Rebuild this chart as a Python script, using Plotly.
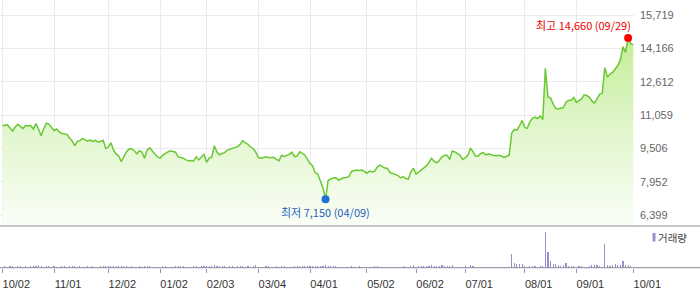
import pandas as pd
import plotly.graph_objects as go

# ---------------- data ----------------
start_date = "2024-10-02"
end_date = "2025-10-01"
market_holidays = [
    "2024-10-03", "2024-10-09", "2024-12-25", "2024-12-31", "2025-01-01",
    "2025-01-27", "2025-01-28", "2025-01-29", "2025-01-30", "2025-03-03",
    "2025-05-01", "2025-05-05", "2025-05-06", "2025-06-03", "2025-06-06",
    "2025-08-15",
]

close_prices = [
    # Oct 2024
    10570, 10590, 10610, 10470, 10330, 10510, 10640, 10540, 10440, 10580,
    10560, 10570, 10420, 10670, 10420, 10110, 10420, 10690, 10650, 10470,
    # Nov
    10350, 10420, 10280, 10210, 10190, 10170, 10000, 9860, 9640, 9840,
    9880, 9980, 9910, 9850, 9910, 9830, 9890, 9820, 9840, 9890, 9510,
    # Dec
    9570, 9780, 9440, 9260, 9160, 8900, 9160, 9350, 9490, 9500,
    9420, 9260, 9410, 9350, 9060, 9440, 9540, 9370, 9260, 9120,
    # Jan 2025
    9060, 9190, 9290, 9350, 9410, 9370, 9340, 9120, 9090, 9060,
    8980, 8940, 8950, 8930, 9130, 8980, 9120, 9240,
    # Feb
    8870, 9060, 9120, 9640, 9350, 9220, 9280, 9320, 9440, 9480,
    9520, 9560, 9600, 9710, 9880, 9770, 9710, 9580, 9510, 9350,
    # Mar
    9090, 9060, 9090, 9120, 9080, 9090, 9100, 9000, 8940, 9200,
    9130, 9190, 9240, 9340, 9130, 9160, 9360, 9280, 9200, 9000,
    # Apr
    8810, 8700, 8380, 8320, 8020, 7670, 7150, 8020, 8090, 8140,
    8150, 8040, 8090, 8150, 8160, 8200, 8440, 8460, 8510, 8490, 8510, 8440,
    # May
    8360, 8460, 8420, 8460, 8650, 8740, 8660, 8600, 8580, 8380,
    8350, 8310, 8250, 8140, 8200, 8110, 8080, 8420, 8590,
    # Jun
    8320, 8420, 8490, 8600, 8700, 8860, 9060, 8910, 8840, 8950,
    9120, 9190, 9200, 9000, 9400, 9350, 9280, 9190, 9000,
    # Jul
    9070, 9190, 9510, 9370, 9160, 9150, 9280, 9320, 9210, 9260,
    9210, 9190, 9170, 9200, 9160, 9100, 9140, 9210, 10230, 10400,
    10370, 10560, 10820,
    # Aug
    10490, 10450, 10750, 10920, 10980, 10910, 11030, 10860, 13250, 11910,
    11870, 11590, 11380, 11350, 11400, 11420, 11680, 11750, 11770, 11890,
    # Sep
    11660, 11750, 11820, 12010, 11980, 11910, 11730, 11630, 11820, 12050,
    12080, 13280, 12840, 12980, 13060, 13240, 13380, 13640, 14250, 13990,
    14660, 14410,
    # Oct 1
    14340,
]

volume_k = [
    # Oct 2024
    60, 70, 55, 65, 80, 60, 70, 75, 60, 65, 55, 70, 90, 75, 150, 80, 60, 70, 65, 60,
    # Nov
    70, 60, 55, 65, 80, 60, 70, 90, 85, 60, 65, 55, 60, 70, 60, 65, 55, 60, 70, 75, 95,
    # Dec
    80, 90, 75, 70, 85, 95, 70, 65, 60, 70, 60, 55, 65, 60, 75, 70, 65, 60, 55, 60,
    # Jan
    60, 65, 70, 60, 55, 60, 65, 70, 75, 65, 60, 60, 55, 65, 80, 60, 65, 70,
    # Feb
    85, 70, 75, 150, 90, 70, 65, 70, 60, 65, 70, 60, 65, 70, 100, 60, 70, 60, 65, 150,
    # Mar
    60, 55, 60, 65, 70, 55, 60, 65, 60, 70, 65, 60, 55, 60, 70, 65, 75, 70, 80, 75,
    # Apr
    90, 85, 95, 90, 100, 110, 120, 90, 75, 70, 65, 60, 55, 60, 55, 60, 65, 60, 55, 70, 60, 55,
    # May
    60, 55, 60, 65, 70, 60, 55, 50, 60, 55, 60, 50, 55, 60, 65, 55, 60, 75, 130,
    # Jun
    60, 65, 70, 75, 80, 70, 140, 75, 70, 65, 150, 65, 100, 65, 150, 50, 55, 55, 55,
    # Jul
    65, 55, 140, 100, 55, 55, 50, 55, 60, 55, 55, 60, 55, 60, 55, 60, 55, 60, 700, 250,
    165, 165, 200,
    # Aug
    100, 55, 100, 100, 100, 55, 100, 100, 1800, 800,
    315, 200, 165, 150, 65, 115, 250, 100, 85, 85,
    # Sep
    35, 65, 100, 50, 50, 100, 115, 150, 115, 65,
    50, 1200, 150, 100, 150, 200, 140, 135, 350, 150, 150, 100,
    # Oct 1
    0,
]

tick_dates = [
    "2024-10-02", "2024-11-01", "2024-12-02", "2025-01-02", "2025-02-03",
    "2025-03-04", "2025-04-01", "2025-05-02", "2025-06-02", "2025-07-01",
    "2025-08-01", "2025-09-01", "2025-10-01",
]
tick_labels = ["10/02", "11/01", "12/02", "01/02", "02/03", "03/04", "04/01",
               "05/02", "06/02", "07/01", "08/01", "09/01", "10/01"]

price_ticks = [6399, 7952, 9506, 11059, 12612, 14166, 15719]

# ---------------- build ----------------
days = pd.bdate_range(start_date, end_date)
days = [d.strftime("%Y-%m-%d") for d in days if d.strftime("%Y-%m-%d") not in market_holidays]
assert len(days) == len(close_prices) == len(volume_k), (len(days), len(close_prices), len(volume_k))

imax = max(range(len(close_prices)), key=lambda i: close_prices[i])
imin = min(range(len(close_prices)), key=lambda i: close_prices[i])

def md(s):
    return s[5:7] + "/" + s[8:10]

W, H = 700, 289
plot_right = 634 / W
price_bottom = (H - 226) / H
vol_bottom = (H - 267.7) / H
vol_top = (H - 228) / H
xr = [-0.889, 244.28]

LINE = "#6ac832"
PURPLE = "#9a8ccf"
KFONT = "Noto Sans CJK KR"
LFONT = "Liberation Sans"

fig = go.Figure()

fig.add_trace(go.Scatter(
    x=days, y=close_prices, mode="lines",
    line=dict(color=LINE, width=1.5),
    fill="tozeroy",
    fillgradient=dict(type="vertical", start=5900, stop=14660,
                      colorscale=[[0, "rgb(250,254,247)"], [0.5, "rgb(225,246,205)"],
                                  [1, "rgb(196,238,152)"]]),
    xaxis="x", yaxis="y", hoverinfo="skip",
))
fig.add_trace(go.Scatter(
    x=[days[imax]], y=[close_prices[imax]], mode="markers",
    marker=dict(color="#ff0000", size=8), xaxis="x", yaxis="y", hoverinfo="skip",
))
fig.add_trace(go.Scatter(
    x=[days[imin]], y=[close_prices[imin]], mode="markers",
    marker=dict(color="#1f6fd6", size=8), xaxis="x", yaxis="y", hoverinfo="skip",
))
fig.add_trace(go.Bar(
    x=days, y=volume_k, width=0.45, marker=dict(color=PURPLE, line=dict(width=0)),
    xaxis="x2", yaxis="y2", hoverinfo="skip",
))

fig.add_annotation(
    x=days[imax], y=close_prices[imax], xref="x", yref="y",
    text=f"최고 {close_prices[imax]:,} ({md(days[imax])})",
    showarrow=False, xanchor="right", yanchor="bottom", xshift=5, yshift=3,
    font=dict(family=KFONT, size=11, color="#f00000"),
)
fig.add_annotation(
    x=days[imin], y=close_prices[imin], xref="x", yref="y",
    text=f"최저 {close_prices[imin]:,} ({md(days[imin])})",
    showarrow=False, xanchor="center", yanchor="top", yshift=-3,
    font=dict(family=KFONT, size=11, color="#1f5fc0"),
)
fig.add_annotation(
    x=656 / W, y=(H - 237) / H, xref="paper", yref="paper",
    text="거래량", showarrow=False, xanchor="left", yanchor="middle",
    font=dict(family=KFONT, size=10.5, color="#444"),
)

fig.update_layout(
    width=W, height=H, margin=dict(l=0, r=0, t=0, b=0, autoexpand=False),
    paper_bgcolor="white", plot_bgcolor="white", showlegend=False,
    bargap=0,
    xaxis=dict(domain=[0, plot_right], type="category", range=xr, anchor="y",
               tickvals=tick_dates, showticklabels=False, ticks="",
               showgrid=True, gridcolor="#ebebeb", gridwidth=1, automargin=False,
               zeroline=False, showline=False, fixedrange=True),
    yaxis=dict(domain=[price_bottom, 1], range=[5900, 16432], side="right",
               anchor="x", tickvals=price_ticks, tickformat=",d", ticks="",
               showgrid=True, gridcolor="#ebebeb", gridwidth=1, zeroline=False,
               showline=False, ticklabelstandoff=5, automargin=False,
               tickfont=dict(family=LFONT, size=11, color="#666")),
    xaxis2=dict(domain=[0, plot_right], type="category", range=xr, anchor="y2",
                tickvals=tick_dates, ticktext=tick_labels, ticks="outside",
                ticklen=4, tickcolor=PURPLE, tickwidth=1, showgrid=False,
                zeroline=False, showline=False, ticklabelshift=14,
                ticklabelstandoff=2, automargin=False,
                tickfont=dict(family=LFONT, size=11, color="#333")),
    yaxis2=dict(domain=[vol_bottom, vol_top], range=[0, 1985], anchor="x2",
                showticklabels=False, showgrid=False, zeroline=False,
                showline=False, ticks="", automargin=False),
    shapes=[
        dict(type="line", xref="paper", yref="paper", x0=0, x1=1,
             y0=price_bottom, y1=price_bottom, line=dict(color="#8f8f8f", width=1)),
        dict(type="line", xref="paper", yref="paper", x0=0, x1=1,
             y0=vol_bottom, y1=vol_bottom, line=dict(color="#8c8c9a", width=1)),
        dict(type="rect", xref="paper", yref="paper", x0=652.5 / W, x1=655.5 / W,
             y0=(H - 241.5) / H, y1=(H - 233) / H, fillcolor=PURPLE,
             line=dict(width=0)),
    ],
)

fig.write_html("out.html", config={"displayModeBar": False, "staticPlot": True})
